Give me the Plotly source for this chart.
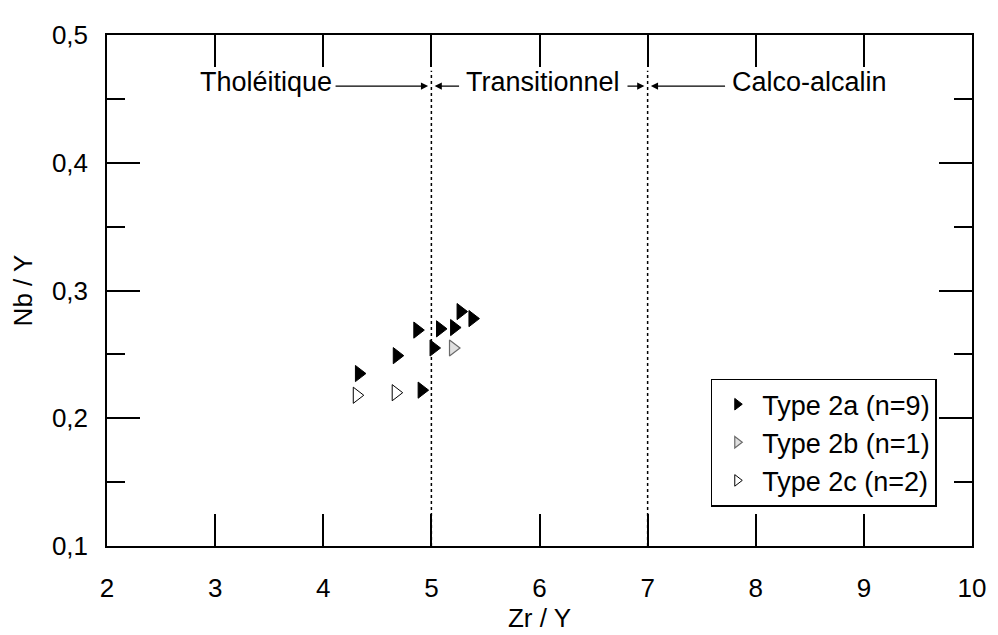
import plotly.graph_objects as go

# Data
type2a_x = [4.33, 4.68, 4.87, 4.91, 5.02, 5.08, 5.21, 5.27, 5.38]
type2a_y = [0.235, 0.249, 0.269, 0.222, 0.255, 0.270, 0.271, 0.2835, 0.278]
type2b_x = [5.20]
type2b_y = [0.255]
type2c_x = [4.31, 4.67]
type2c_y = [0.218, 0.220]

boundaries = [5, 7]
x_ticks = [2, 3, 4, 5, 6, 7, 8, 9, 10]
y_ticks = [0.1, 0.2, 0.3, 0.4, 0.5]

FONT = "Arial, Liberation Sans, Helvetica, sans-serif"
FS = 26
FS_TXT = 27

series = [
    ("Type 2a (n=9)", type2a_x, type2a_y,
     dict(symbol="triangle-right", color="black", line=dict(color="black", width=1))),
    ("Type 2b (n=1)", type2b_x, type2b_y,
     dict(symbol="triangle-right", color="#e0e0e0", line=dict(color="#6a6a6a", width=1.2))),
    ("Type 2c (n=2)", type2c_x, type2c_y,
     dict(symbol="triangle-right-open", color="black", line=dict(width=1))),
]

fig = go.Figure()
for name, xs, ys, mk in series:
    fig.add_trace(go.Scatter(x=xs, y=ys, mode="markers", name=name, showlegend=False,
                             marker=dict(size=14, **mk)))
for name, xs, ys, mk in series:
    fig.add_trace(go.Scatter(x=[None], y=[None], mode="markers", name=name,
                             marker=dict(size=10, **mk)))

for b in boundaries:
    fig.add_shape(type="line", x0=b, x1=b, y0=0.1, y1=0.472, xref="x", yref="y",
                  line=dict(color="black", width=1.5, dash="dot"))

ytxt = 0.463
labels = [("Tholéitique", 3.47), ("Transitionnel", 6.03), ("Calco-alcalin", 8.50)]
for t, xc in labels:
    fig.add_annotation(x=xc, y=ytxt, text=t, showarrow=False,
                       font=dict(family=FONT, size=FS_TXT, color="black"))

arrows = [(4.10, 4.97), (5.27, 5.03), (6.80, 6.97), (7.73, 7.03)]
for tail, head in arrows:
    fig.add_annotation(x=head, y=ytxt - 0.003, ax=tail, ay=ytxt - 0.003, xref="x", yref="y",
                       axref="x", ayref="y", text="", showarrow=True,
                       arrowhead=2, arrowsize=1.2, arrowwidth=1.2, arrowcolor="black",
                       standoff=0, startstandoff=0)

fig.update_layout(
    width=990, height=627,
    margin=dict(l=99, r=21, t=13, b=81),
    paper_bgcolor="white", plot_bgcolor="white",
    separators=", ",
    font=dict(family=FONT, size=FS, color="black"),
    showlegend=True,
    legend=dict(x=0.698, y=0.077, xanchor="left", yanchor="bottom",
                bgcolor="white", bordercolor="black", borderwidth=1.5,
                tracegroupgap=0, itemwidth=40,
                font=dict(family=FONT, size=FS_TXT, color="black")),
)
fig.update_xaxes(range=[2, 10], tickvals=x_ticks, ticks="inside", ticklen=32, tickwidth=1.5,
                 tickcolor="black", showline=True, linecolor="black", linewidth=1.5,
                 mirror="ticks", showgrid=False, zeroline=False, ticklabelstandoff=18,
                 ticklabeloverflow="allow",
                 title=dict(text="Zr / Y", standoff=2, font=dict(size=FS)),
                 tickfont=dict(size=FS))
fig.update_yaxes(range=[0.1, 0.5], tickvals=y_ticks, tickformat=".1f", ticks="inside",
                 ticklen=33, tickwidth=1.5, tickcolor="black", showline=True,
                 linecolor="black", linewidth=1.5, mirror="ticks", showgrid=False,
                 zeroline=False, ticklabelstandoff=12, ticklabeloverflow="allow",
                 minor=dict(dtick=0.05, ticks="inside", ticklen=18, tickwidth=1.5,
                            tickcolor="black", showgrid=False),
                 title=dict(text="Nb / Y", standoff=12, font=dict(size=FS)),
                 tickfont=dict(size=FS))

fig.write_html("out.html")
